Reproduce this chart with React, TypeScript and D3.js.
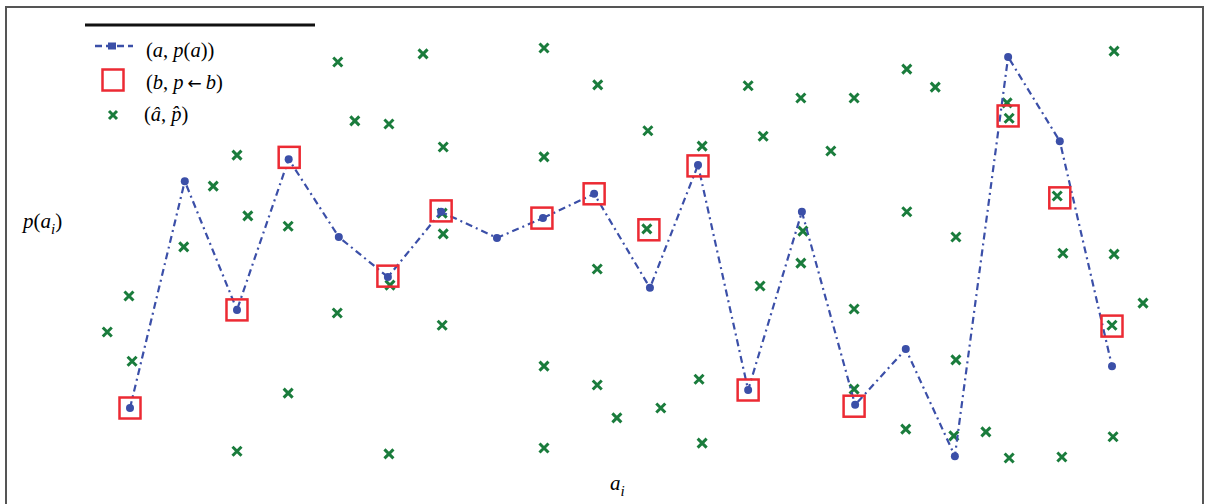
import React from 'react'
import * as d3 from 'd3'

// (a, p(a)) main series
const aX = [1.0, 2.06, 3.07, 4.07, 5.04, 5.99, 7.02, 8.1, 8.99, 9.98, 11.06, 11.99, 12.96, 14.0, 15.03, 16.01, 16.96, 17.99, 18.99, 20.0]
const aP = [0.16, 0.664, 0.378, 0.713, 0.54, 0.451, 0.596, 0.538, 0.582, 0.636, 0.427, 0.7, 0.2, 0.596, 0.167, 0.291, 0.053, 0.94, 0.753, 0.253]

// (b, p <- b) squares
const bX = [1.0, 3.07, 4.08, 5.99, 7.02, 8.97, 9.98, 11.04, 11.99, 12.96, 15.01, 17.99, 18.99, 20.0]
const bP = [0.16, 0.378, 0.717, 0.453, 0.598, 0.582, 0.636, 0.556, 0.698, 0.2, 0.164, 0.809, 0.627, 0.342]

// (â, p̂) estimates
const hatX = [
  0.56, 0.98, 1.04, 2.04, 2.61, 3.07, 3.28, 4.06, 4.06, 3.07, 5.01, 5.02, 5.35, 6.01, 6.03, 6.01,
  6.67, 7.06, 7.06, 7.04, 7.04, 9.01, 9.01, 9.01, 9.01, 10.05, 10.04, 10.04, 10.42, 11.02, 11.0,
  11.27, 12.07, 12.01, 12.07, 12.96, 13.25, 13.19, 13.98, 14.02, 13.98, 14.56, 15.01, 15.01, 15.01,
  16.03, 16.58, 16.03, 16.01, 16.98, 16.98, 16.94, 17.56, 17.97, 18.01, 18.01, 18.94, 19.05, 19.03,
  20.04, 20.04, 20.0, 20.02, 20.6,
]
const hatP = [
  0.329, 0.409, 0.264, 0.518, 0.653, 0.722, 0.587, 0.564, 0.193, 0.064, 0.371, 0.929, 0.798, 0.791, 0.433, 0.058,
  0.947, 0.74, 0.547, 0.344, 0.593, 0.96, 0.718, 0.253, 0.071, 0.878, 0.469, 0.211, 0.138, 0.776, 0.558,
  0.16, 0.742, 0.224, 0.082, 0.876, 0.764, 0.431, 0.849, 0.553, 0.482, 0.731, 0.849, 0.38, 0.202,
  0.913, 0.873, 0.596, 0.113, 0.54, 0.267, 0.098, 0.107, 0.838, 0.804, 0.049, 0.631, 0.504, 0.051,
  0.953, 0.502, 0.344, 0.096, 0.393,
]

const W = 1206
const H = 504
const BLUE = '#3b4fa8'
const RED = '#ec2a33'
const GREEN = '#1a7c3c'
const FONT = '"Liberation Serif", "DejaVu Serif", serif'

function XMark({ cx, cy, s = 4.5 }: { cx: number; cy: number; s?: number }) {
  return (
    <path
      d={`M${cx - s},${cy - s}L${cx + s},${cy + s}M${cx - s},${cy + s}L${cx + s},${cy - s}`}
      stroke={GREEN}
      strokeWidth={3}
      fill="none"
    />
  )
}

export default function App() {
  const x = d3.scaleLinear().domain([1, 20]).range([130, 1112])
  const y = d3.scaleLinear().domain([0, 1]).range([480, 30])

  const main = aX.map((v, i) => [v, aP[i]] as [number, number])
  const line = d3.line<[number, number]>().x(d => x(d[0])).y(d => y(d[1]))

  const sq = 21

  return (
    <svg width={W} height={H} style={{ position: 'absolute', left: 0, top: 0, background: '#fff' }}>
      {/* frame */}
      <path d={`M6,${H}V7H1203V${H}`} fill="none" stroke="#555" strokeWidth={2} />

      {/* estimates */}
      {hatX.map((v, i) => (
        <XMark key={'h' + i} cx={x(v)} cy={y(hatP[i])} />
      ))}

      {/* main series */}
      <path d={line(main) || ''} fill="none" stroke={BLUE} strokeWidth={2.2} strokeDasharray="7,4,2,4" />
      {main.map((d, i) => (
        <circle key={'a' + i} cx={x(d[0])} cy={y(d[1])} r={4} fill={BLUE} />
      ))}

      {/* squares */}
      {bX.map((v, i) => (
        <rect
          key={'b' + i}
          x={x(v) - sq / 2}
          y={y(bP[i]) - sq / 2}
          width={sq}
          height={sq}
          fill="none"
          stroke={RED}
          strokeWidth={2.5}
        />
      ))}

      {/* legend */}
      <line x1={85} x2={315} y1={25} y2={25} stroke="#111" strokeWidth={3} />
      <line x1={95} x2={133} y1={46} y2={46} stroke={BLUE} strokeWidth={2.5} strokeDasharray="7,4" />
      <rect x={108} y={42.5} width={8} height={7} fill={BLUE} />
      <text x={146} y={57} fontFamily={FONT} fontSize={20.5}>
        (<tspan fontStyle="italic">a</tspan>, <tspan fontStyle="italic">p</tspan>(<tspan fontStyle="italic">a</tspan>))
      </text>
      <rect x={102.5} y={69.5} width={21} height={21} fill="none" stroke={RED} strokeWidth={2.5} />
      <text x={146} y={89} fontFamily={FONT} fontSize={20.5}>
        (<tspan fontStyle="italic">b</tspan>, <tspan fontStyle="italic">p</tspan>
        <tspan fontFamily='"DejaVu Sans", sans-serif' fontSize={17} dx={4}>←</tspan>
        <tspan fontStyle="italic" dx={4}>b</tspan>)
      </text>
      <XMark cx={113} cy={115} s={4} />
      <text x={144} y={121} fontFamily={FONT} fontSize={20.5}>
        (<tspan fontStyle="italic">â</tspan>, <tspan fontStyle="italic">p̂</tspan>)
      </text>

      {/* axis labels */}
      <text x={23} y={228} fontFamily={FONT} fontSize={21}>
        <tspan fontStyle="italic">p</tspan>(<tspan fontStyle="italic">a</tspan>
        <tspan fontStyle="italic" fontSize={15} dy={6}>i</tspan>
        <tspan dy={-6}>)</tspan>
      </text>
      <text x={610} y={490} fontFamily={FONT} fontSize={21}>
        <tspan fontStyle="italic">a</tspan>
        <tspan fontStyle="italic" fontSize={15} dy={6}>i</tspan>
      </text>
    </svg>
  )
}
